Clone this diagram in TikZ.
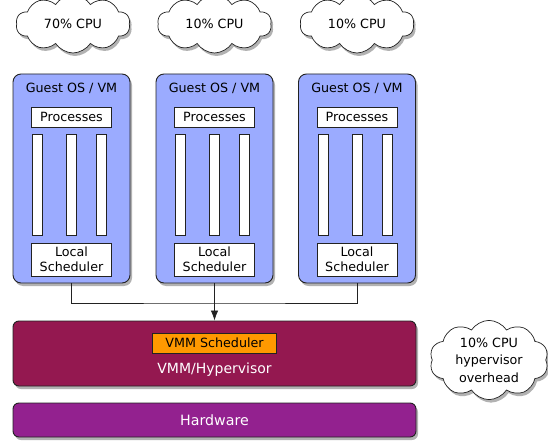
\documentclass[tikz,border=0pt]{standalone}
\usepackage{fontspec}
\setmainfont{DejaVu Sans}
\usetikzlibrary{shapes.symbols,shadows,arrows.meta}
\definecolor{vmblue}{HTML}{9BABFF}
\definecolor{vmmred}{HTML}{941850}
\definecolor{hwpurple}{HTML}{93218F}
\definecolor{schedorange}{HTML}{FF9900}
\definecolor{edge}{HTML}{222222}
\tikzset{
  shad/.style={drop shadow={shadow xshift=2pt,shadow yshift=-3pt,opacity=.3,fill=black}},
  txt/.style={font=\fontsize{12.7}{15}\selectfont},
  vmbox/.style={draw=edge,line width=0.9pt,rounded corners=8pt,fill=vmblue,minimum width=117pt,minimum height=209pt,inner sep=0pt,shad},
  wbox/.style={draw=edge,line width=0.7pt,fill=white,inner sep=0pt,txt},
  bar/.style={draw=edge,line width=0.7pt,fill=white,minimum width=10pt,minimum height=101pt,inner sep=0pt},
  cpucloud/.style={cloud,cloud puffs=10,cloud puff arc=115,aspect=2.4,draw=edge,line width=0.7pt,fill=white,minimum width=114pt,minimum height=58pt,inner sep=0pt,txt,shad},
  layer/.style={draw=edge,line width=0.9pt,rounded corners=6pt,minimum width=403pt,inner sep=0pt,shad},
  conn/.style={draw=edge,line width=0.8pt}
}
\begin{document}
\begin{tikzpicture}[x=1pt,y=-1pt]
\useasboundingbox (0,0) rectangle (548,446);
% clouds
\node[cpucloud] (c1) at (73,24) {70\% CPU};
\node[cpucloud] (c2) at (214.5,24) {10\% CPU};
\node[cpucloud] (c3) at (357,24) {10\% CPU};
% VMs
\foreach \n/\cx in {1/71.5,2/214.5,3/357}{
  \node[vmbox] (vm\n) at (\cx,178.5) {};
  \node[txt,anchor=base] (g\n) at (\cx,93) {Guest OS / VM};
  \node[wbox,minimum width=80pt,minimum height=20pt] (p\n) at (\cx,117) {Processes};
  \node[bar] (ba\n) at (\cx-34,184.5) {};
  \node[bar] (bb\n) at (\cx,184.5) {};
  \node[bar] (bc\n) at (\cx+30,184.5) {};
  \node[wbox,minimum width=80pt,minimum height=33pt,align=center] (ls\n) at (\cx,259.5) {Local\\Scheduler};
}
% hypervisor
\node[layer,fill=vmmred,minimum height=65pt] (vmm) at (214.5,353.5) {};
\node[draw=edge,line width=0.7pt,fill=schedorange,minimum width=124pt,minimum height=20pt,inner sep=0pt,txt] (sched) at (214.5,343) {VMM Scheduler};
\node[text=white,font=\fontsize{14}{16}\selectfont,anchor=base] (vmmt) at (214.5,373) {VMM/Hypervisor};
% hardware
\node[layer,fill=hwpurple,minimum height=34pt] (hw) at (214.5,420) {};
\node[text=white,font=\fontsize{14.2}{16}\selectfont,anchor=base] (hwt) at (214.5,425) {Hardware};
% overhead cloud
\node[cloud,cloud puffs=10,cloud puff arc=115,aspect=1.8,draw=edge,line width=0.7pt,fill=white,minimum width=118pt,minimum height=64pt,inner sep=0pt,align=center,font=\fontsize{12.7}{17.5}\selectfont,shad] (oc) at (489,360) {10\% CPU\\hypervisor\\overhead};
% connectors
\coordinate (bus) at (214.5,303);
\draw[conn] (vm1.south) |- (bus) -| (vm3.south);
\draw[conn,-{Latex[length=10pt,width=7.5pt]}] (vm2.south) -- (vmm.north);
\end{tikzpicture}
\end{document}
